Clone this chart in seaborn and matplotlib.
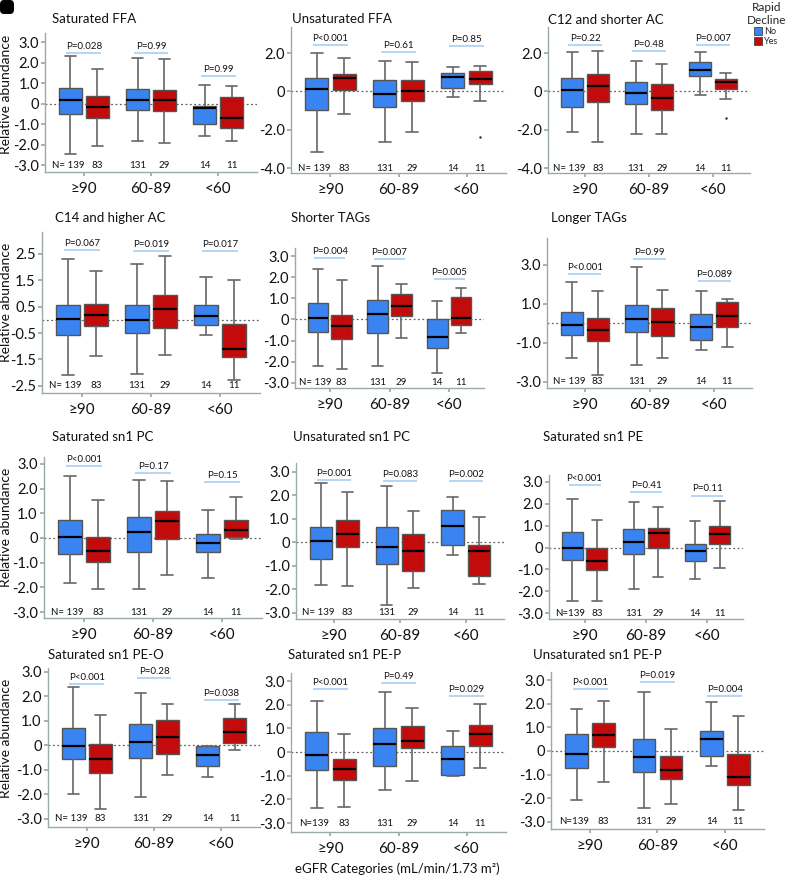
import numpy as np
import pandas as pd
import matplotlib
matplotlib.use("Agg")
import matplotlib.pyplot as plt
from matplotlib.patches import Patch, FancyBboxPatch
import seaborn as sns

sns.set_theme(style="ticks")
plt.rcParams["font.family"] = ["Lato", "DejaVu Sans"]

# ---------------- data ----------------
groups = ["≥90", "60-89", "<60"]
declines = ["No", "Yes"]
n_counts = [139, 83, 131, 29, 14, 11]

titles = ["Saturated FFA", "Unsaturated FFA", "C12 and shorter AC",
          "C14 and higher AC", "Shorter TAGs", "Longer TAGs",
          "Saturated sn1 PC", "Unsaturated sn1 PC", "Saturated sn1 PE",
          "Saturated sn1 PE-O", "Saturated sn1 PE-P", "Unsaturated sn1 PE-P"]

# boxes per panel: No ≥90, Yes ≥90, No 60-89, Yes 60-89, No <60, Yes <60
# each: (lower whisker, Q1, median, Q3, upper whisker)
sat_ffa = [(-2.48, -0.52, 0.16, 0.76, 2.30), (-2.06, -0.73, -0.16, 0.36, 1.70),
           (-1.83, -0.32, 0.16, 0.73, 2.24), (-1.91, -0.37, 0.16, 0.68, 2.19),
           (-1.57, -1.02, -0.21, -0.13, 0.92), (-1.83, -1.18, -0.73, 0.32, 0.84)]
unsat_ffa = [(-3.18, -0.96, 0.12, 0.70, 2.00), (-1.18, 0.05, 0.68, 0.89, 1.74),
             (-2.64, -0.82, -0.12, 0.57, 1.57), (-2.14, -0.52, 0.03, 0.61, 1.51),
             (-0.28, 0.17, 0.75, 0.96, 1.25), (-0.49, 0.40, 0.66, 1.04, 1.30)]
c12_ac = [(-2.13, -0.80, 0.06, 0.72, 2.05), (-2.62, -0.58, 0.29, 0.93, 2.09),
          (-2.24, -0.66, -0.07, 0.50, 1.59), (-2.22, -0.97, -0.33, 0.38, 1.45),
          (-0.20, 0.82, 1.14, 1.53, 2.05), (-0.42, 0.13, 0.48, 0.62, 0.98)]
c14_ac = [(-2.10, -0.59, 0.03, 0.58, 2.30), (-1.36, -0.23, 0.18, 0.62, 1.84),
          (-2.05, -0.49, -0.01, 0.58, 2.10), (-1.33, -0.29, 0.40, 0.96, 2.42),
          (-0.57, -0.19, 0.13, 0.56, 1.64), (-2.29, -1.40, -1.09, -0.14, 1.52)]
shorter_tag = [(-2.21, -0.60, 0.05, 0.76, 2.37), (-2.35, -0.93, -0.32, 0.19, 1.86),
               (-2.21, -0.63, 0.24, 0.92, 2.54), (-0.87, 0.16, 0.66, 1.20, 1.67),
               (-2.51, -1.33, -0.85, 0.02, 0.87), (-0.62, -0.24, 0.09, 1.07, 1.50)]
longer_tag = [(-1.75, -0.60, -0.09, 0.57, 2.11), (-2.66, -0.91, -0.34, 0.29, 1.68),
              (-2.14, -0.46, 0.21, 0.94, 2.88), (-1.75, -0.65, 0.05, 0.77, 1.71),
              (-1.34, -0.86, -0.17, 0.46, 1.68), (-1.20, -0.17, 0.36, 1.08, 1.27)]
sat_pc = [(-1.82, -0.65, 0.05, 0.73, 2.50), (-2.05, -0.99, -0.53, 0.05, 1.52),
          (-2.05, -0.58, 0.23, 0.87, 2.36), (-1.48, -0.05, 0.69, 1.10, 2.29),
          (-1.62, -0.58, -0.22, 0.15, 1.14), (-0.04, 0.03, 0.33, 0.73, 1.66)]
unsat_pc = [(-1.80, -0.70, 0.08, 0.65, 2.55), (-1.85, -0.20, 0.35, 0.95, 2.15),
            (-2.65, -0.90, -0.20, 0.65, 2.40), (-1.95, -1.20, -0.38, 0.35, 1.35),
            (-0.52, -0.12, 0.70, 1.38, 1.95), (-1.75, -1.45, -0.36, -0.10, 1.07)]
sat_pe = [(-2.43, -0.57, 0.00, 0.72, 2.23), (-2.46, -1.05, -0.62, -0.03, 1.26),
          (-1.88, -0.31, 0.26, 0.85, 2.08), (-1.35, 0.00, 0.66, 0.88, 1.85),
          (-1.46, -0.62, -0.15, 0.18, 1.23), (-0.95, 0.15, 0.62, 1.00, 2.15)]
sat_peo = [(-1.97, -0.54, -0.02, 0.70, 2.40), (-2.61, -1.13, -0.57, 0.07, 1.25),
           (-2.11, -0.52, 0.13, 0.88, 2.15), (-1.22, -0.35, 0.35, 1.02, 1.70),
           (-1.27, -0.86, -0.38, -0.03, -0.03), (-0.17, 0.10, 0.55, 1.10, 1.68)]
sat_pep = [(-2.37, -0.75, -0.11, 0.85, 2.17), (-2.34, -1.20, -0.72, -0.28, 0.76),
           (-1.62, -0.58, 0.34, 1.01, 2.54), (-1.24, 0.15, 0.48, 1.08, 1.86),
           (-1.03, -0.99, -0.28, 0.24, 0.87), (-0.68, 0.27, 0.77, 1.15, 2.04)]
unsat_pep = [(-2.09, -0.72, -0.11, 0.73, 1.79), (-1.31, 0.17, 0.66, 1.20, 2.12),
             (-2.40, -0.90, -0.25, 0.51, 2.50), (-2.26, -1.17, -0.82, -0.20, 0.95),
             (-0.62, -0.20, 0.52, 0.83, 2.08), (-2.51, -1.45, -1.10, -0.11, 1.48)]

panel_boxes = [sat_ffa, unsat_ffa, c12_ac, c14_ac, shorter_tag, longer_tag,
               sat_pc, unsat_pc, sat_pe, sat_peo, sat_pep, unsat_pep]

# outliers: (panel index, group, decline, value)
outliers = [(1, "<60", "Yes", -2.38), (2, "<60", "Yes", -1.41)]

p_values = [["P=0.028", "P=0.99", "P=0.99"],
            ["P<0.001", "P=0.61", "P=0.85"],
            ["P=0.22", "P=0.48", "P=0.007"],
            ["P=0.067", "P=0.019", "P=0.017"],
            ["P=0.004", "P=0.007", "P=0.005"],
            ["P<0.001", "P=0.99", "P=0.089"],
            ["P<0.001", "P=0.17", "P=0.15"],
            ["P=0.001", "P=0.083", "P=0.002"],
            ["P<0.001", "P=0.41", "P=0.11"],
            ["P<0.001", "P=0.28", "P=0.038"],
            ["P<0.001", "P=0.49", "P=0.029"],
            ["P<0.001", "P=0.019", "P=0.004"]]

# ---------------- layout / style ----------------
W, H = 788, 882
# axes box in pixels: left, right, top, bottom
axes_px = [(45, 257, 33, 172), (291, 506, 27, 173), (548, 750, 27, 173),
           (42, 260, 232, 393), (295, 484, 248, 388), (547, 752, 238, 388),
           (44, 262, 457, 618), (296, 504, 463, 619), (549, 743, 475, 619),
           (48, 260, 668, 827), (291, 506, 673, 832), (551, 764, 672, 829)]
ylims = [(-3.34, 3.44), (-4.26, 3.36), (-4.26, 3.36),
         (-2.77, 3.33), (-3.24, 3.38), (-3.31, 4.38),
         (-3.24, 3.28), (-3.26, 3.38), (-3.27, 3.32),
         (-3.33, 3.16), (-3.38, 3.34), (-3.30, 3.34)]
std_ticks = [3, 2, 1, 0, -1, -2, -3]
yticks = [std_ticks, [2, 0, -2, -4], [2, 0, -2, -4],
          [2.5, 1.5, 0.5, -0.5, -1.5, -2.5], std_ticks, [3, 1, -1, -3],
          std_ticks, std_ticks, std_ticks, std_ticks, std_ticks, std_ticks]
# height (data units) of the light-blue line under each P label
p_line_y = [[2.48, 2.48, 1.33], [2.43, 2.05, 2.38], [2.43, 2.12, 2.43],
            [2.66, 2.61, 2.60], [2.89, 2.84, 1.91], [2.52, 3.29, 2.18],
            [2.93, 2.63, 2.25], [2.65, 2.62, 2.60], [2.88, 2.54, 2.38],
            [2.52, 2.75, 1.86], [2.68, 2.92, 2.38], [2.60, 2.92, 2.34]]
title_px = [(52, 19), (292, 19), (548, 20), (55, 218), (291, 218), (551, 218),
            (52, 437), (293, 437), (543, 437), (48, 655), (288, 655), (533, 655)]
n_space = [True] * 8 + [False, True, False, False]

palette = {"No": "#3a84f2", "Yes": "#c30b0b"}
spine_col = "#9aaaaa"
edge_col = "#555555"
box_width = 0.8
XLIM = (-0.58, 2.58)


def tick_label(v):
    return "0" if v == 0 else f"{v:.1f}"


fig = plt.figure(figsize=(W / 100, H / 100), dpi=100)

for k in range(12):
    l, r, t, b = axes_px[k]
    ax = fig.add_axes([l / W, 1 - b / H, (r - l) / W, (b - t) / H])
    rows = []
    for i, stats in enumerate(panel_boxes[k]):
        g = groups[i // 2]
        d = declines[i % 2]
        for v in stats:
            rows.append({"eGFR": g, "Rapid Decline": d, "value": v})
    df = pd.DataFrame(rows)
    ax.axhline(0, color="#606060", lw=0.9, ls=(0, (1.5, 2.0)), zorder=0.5)
    sns.boxplot(data=df, x="eGFR", y="value", hue="Rapid Decline",
                order=groups, hue_order=declines, palette=palette,
                whis=(0, 100), width=box_width, gap=0.15, saturation=1,
                linecolor=edge_col, linewidth=1.0, fliersize=0, legend=False,
                ax=ax,
                medianprops={"color": "black", "linewidth": 1.6},
                whiskerprops={"color": "#666666", "linewidth": 1.2},
                capprops={"color": "#666666", "linewidth": 1.2})
    odf = pd.DataFrame([{"eGFR": g, "Rapid Decline": d, "value": v}
                        for (pk, g, d, v) in outliers if pk == k])
    if len(odf):
        sns.stripplot(data=odf, x="eGFR", y="value", hue="Rapid Decline",
                      order=groups, hue_order=declines, dodge=True, jitter=False,
                      palette={"No": "#333333", "Yes": "#333333"}, size=1.8,
                      legend=False, ax=ax)
    ax.set_xlim(*XLIM)
    ax.set_ylim(*ylims[k])
    ax.set_yticks(yticks[k])
    ax.set_yticklabels([tick_label(v) for v in yticks[k]])
    ax.set_xlabel("")
    ax.set_ylabel("")
    for s in ["top", "right"]:
        ax.spines[s].set_visible(False)
    for s in ["left", "bottom"]:
        ax.spines[s].set_color(spine_col)
        ax.spines[s].set_linewidth(1.0)
    ax.tick_params(axis="y", length=3, color=spine_col, labelsize=10.5, pad=1.5,
                   labelcolor="#111111")
    ax.tick_params(axis="x", length=3, color=spine_col, labelsize=11, pad=4,
                   labelcolor="#111111")

    # P values
    for gi in range(3):
        yl = p_line_y[k][gi]
        ax.plot([gi - 0.26, gi + 0.26], [yl, yl], color="#a9cdf3", lw=1.2,
                solid_capstyle="butt")
        ax.annotate(p_values[k][gi], xy=(gi, yl), xytext=(0, 1.5),
                    textcoords="offset points", ha="center", va="bottom",
                    fontsize=7, color="#111111")
    # N labels
    ybase = yticks[k][-1]
    for i, n in enumerate(n_counts):
        gi, hi = i // 2, i % 2
        xc = gi + (hi - 0.5) * box_width / 2
        txt = str(n)
        if i == 0:
            txt = ("N= " if n_space[k] else "N=") + txt
            xc -= 0.04
        ax.text(xc, ybase, txt, ha="center", va="center", fontsize=7,
                color="#111111")

    if k % 3 == 0:
        ax.set_ylabel("Relative abundance", fontsize=10, color="#111111")
        ax.yaxis.set_label_coords((12 - l) / (r - l), 0.56)

    tx, ty = title_px[k]
    fig.text(tx / W, 1 - ty / H, titles[k], ha="left", va="center",
             fontsize=9.5, color="#111111")

fig.text(397 / W, 1 - 869 / H, "eGFR Categories (mL/min/1.73 m²)",
         ha="center", va="center", fontsize=9.5, color="#111111")

# legend
handles = [Patch(facecolor=palette[d], edgecolor="#444444", lw=0.6) for d in declines]
leg = fig.legend(handles, declines, title="Rapid\nDecline", loc="upper right",
                 bbox_to_anchor=(1.0, 1.0), frameon=False, fontsize=6.5,
                 title_fontsize=8.5, handlelength=0.9, handleheight=0.9,
                 labelspacing=0.15, handletextpad=0.2, borderpad=0.1,
                 borderaxespad=0.1)
leg.get_title().set_multialignment("center")

# panel letter block (cut off at corner)
fig.patches.append(FancyBboxPatch((0, 1 - 14 / H), 14 / W, 14 / H,
                                  boxstyle="round,pad=0,rounding_size=0.005",
                                  transform=fig.transFigure, facecolor="black",
                                  edgecolor="none"))

fig.savefig("out.png", dpi=100)
